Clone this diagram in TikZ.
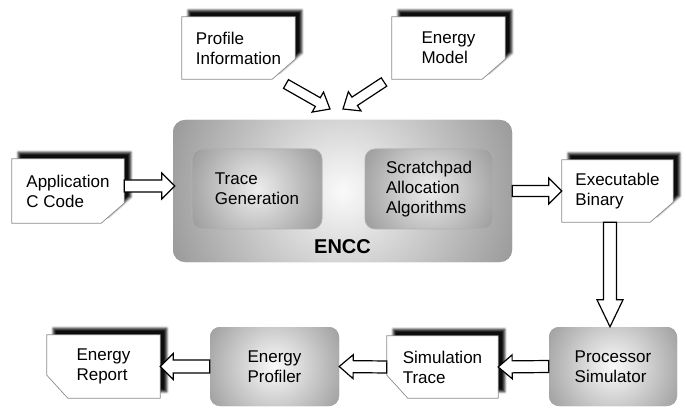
\documentclass[tikz,border=0pt]{standalone}
\usepackage{fontspec}
\setmainfont{Liberation Sans}
\usetikzlibrary{calc,shadows.blur}
\pgfdeclarelayer{background}
\pgfsetlayers{background,main}
\newcommand\blockarr[5]{%
  \coordinate (bacut) at ($(#2)!#5!(#1)$);
  \draw[barrow] ($(#1)!#3!90:(#2)$) -- ($(bacut)!#3!90:(#2)$) -- ($(bacut)!#4!90:(#2)$) -- (#2)
     -- ($(bacut)!#4!-90:(#2)$) -- ($(bacut)!#3!-90:(#2)$) -- ($(#1)!#3!-90:(#2)$) -- cycle;
}
\tikzset{
  txt/.style={inner sep=0pt, align=left, font=\fontsize{17}{20}\selectfont},
  doc/.style={txt, minimum width=113pt, minimum height=62pt},
  docshape/.style={fill=white, draw=black!45, line width=0.7pt,
     blur shadow={shadow xshift=6.5pt, shadow yshift=6.5pt, shadow blur radius=2.5pt,
                  shadow opacity=95}},
  rshade/.style n args={3}{fill=#2, path picture={%
     \shade[inner color=#1, outer color=#2] (path picture bounding box.center) circle (#3);}},
  gbox/.style={txt, rounded corners=10pt, rshade={white!98!black}{black!38}{76pt}},
  barrow/.style={draw=black, fill=white, line width=1.2pt, line join=miter},
}
\begin{document}
\begin{tikzpicture}[x=1pt,y=-1pt]
\useasboundingbox (0,0) rectangle (686,409);
% documents
\node[doc] (prof) at (238.5,48) {Profile\\Information};
\node[doc] (emod) at (448.5,48) {Energy\\Model};
\node[doc, minimum width=112pt, minimum height=64pt] (app) at (68,191) {Application\\C Code};
\node[doc, minimum width=111pt] (exe) at (617.5,191) {Executable\\Binary};
\node[doc, minimum width=111pt] (simt) at (442.5,367) {Simulation\\Trace};
\node[doc, minimum height=63pt] (erep) at (103.5,366.5) {Energy\\Report};
\begin{pgfonlayer}{background}
  \foreach \n in {prof,emod,app,exe}{
    \path[docshape] (\n.north west) -- (\n.north east) -- ($(\n.south east)+(0,20pt)$)
       -- ($(\n.south east)+(-23pt,0)$) -- (\n.south west) -- cycle;
  }
  \foreach \n in {simt,erep}{
    \path[docshape] (\n.north west) -- (\n.north east) -- (\n.south east)
       -- ($(\n.south west)+(21pt,0)$) -- ($(\n.south west)+(0,23pt)$) -- cycle;
  }
\end{pgfonlayer}
% shaded boxes
\node[gbox, minimum width=339pt, minimum height=142pt, rounded corners=12pt,
      rshade={white!98!black}{black!40}{185pt}] (encc) at (342.5,191) {};
\node[font=\fontsize{20}{24}\selectfont\bfseries, inner sep=0pt] (enccl) at (342.5,247) {ENCC};
\node[gbox, minimum width=130pt, minimum height=80pt, draw=black!30, line width=0.6pt,
      rshade={white!93!black}{black!40}{77pt}] (tg) at (257,189) {Trace\\Generation};
\node[gbox, minimum width=128pt, minimum height=80pt, draw=black!30, line width=0.6pt,
      rshade={white!93!black}{black!40}{77pt}] (sa) at (429,189) {Scratchpad\\Allocation\\Algorithms};
\node[gbox, minimum width=128pt, minimum height=79pt] (ps) at (613,366.5) {Processor\\Simulator};
\node[gbox, minimum width=129pt, minimum height=79pt] (ep) at (274.5,366.5) {Energy\\Profiler};
% arrow end points
\coordinate (a1s) at (286,84);
\coordinate (a1e) at (330,109);
\coordinate (a2s) at (384,82);
\coordinate (a2e) at (343,109);
\coordinate (a3s) at ($(app.east)+(0,5pt)$);
\coordinate (a3e) at ($(a3s -| encc.west)+(2pt,0)$);
\coordinate (a5s) at ($(exe.south)+(-7.5pt,0)$);
\coordinate (a5e) at (a5s |- ps.north);
% arrows
\blockarr{a1s}{a1e}{5pt}{11.5pt}{14pt}
\blockarr{a2s}{a2e}{5pt}{11.5pt}{14pt}
\blockarr{a3s}{a3e}{6pt}{13pt}{13pt}
\blockarr{encc.east}{exe.west}{5.5pt}{13pt}{13pt}
\blockarr{a5s}{a5e}{6.5pt}{13pt}{27pt}
\blockarr{ps.west}{simt.east}{6pt}{12pt}{14pt}
\blockarr{simt.west}{ep.east}{6pt}{12pt}{14pt}
\blockarr{ep.west}{erep.east}{6.5pt}{13pt}{13pt}
\end{tikzpicture}
\end{document}
